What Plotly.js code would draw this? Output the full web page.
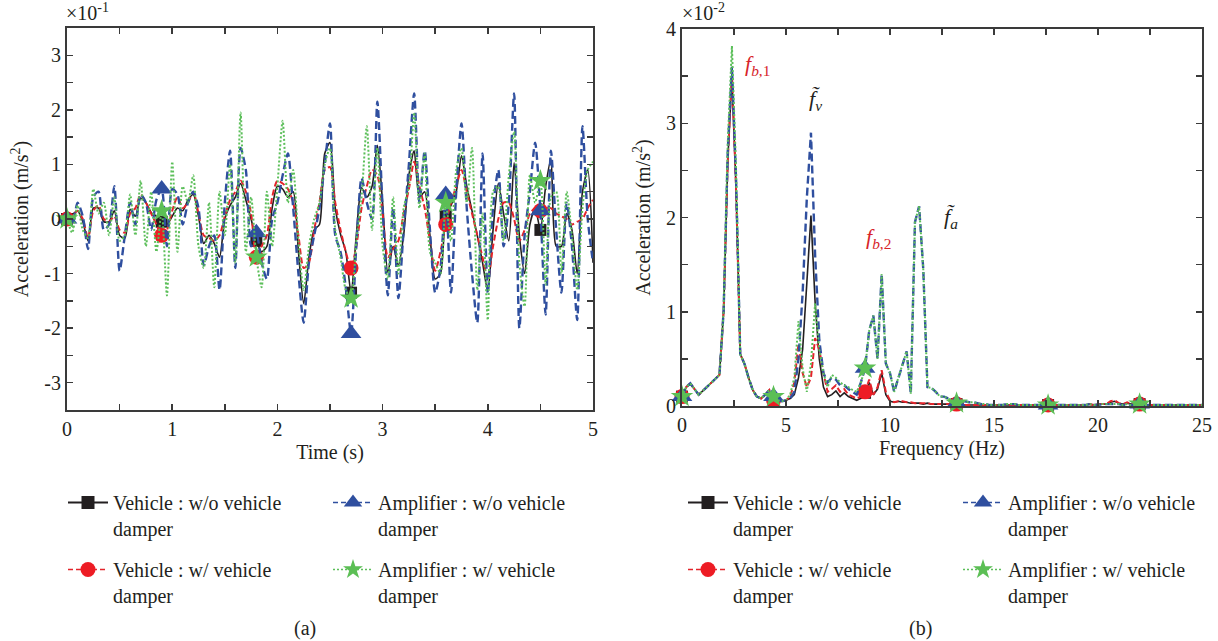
<!DOCTYPE html>
<html>
<head>
<meta charset="utf-8">
<script src="https://cdn.plot.ly/plotly-3.0.1.min.js"></script>
<style>
html,body{margin:0;padding:0;background:#fff;}
#chart{width:1218px;height:641px;}
</style>
</head>
<body>
<div id="chart"></div>
<script>
// ---------------- DATA ----------------
// (a) time histories, sampled every 0.05 s from 0 to 5 s (units: x10^-1 m/s^2)
const timeStep = 0.05;
const timeMarkers = [0, 0.9, 1.8, 2.7, 3.6, 4.5];
const timeVehicleNoDamper = [
  0.0,0.08,0.15,-0.05,-0.4,0.2,0.2,-0.05,-0.05,0.15,-0.3,-0.35,0.18,0.05,0.38,0.3,0.12,0.05,-0.05,-0.1,
  0.05,0.2,0.15,0.35,0.45,0.05,-0.45,-0.3,-0.45,-0.7,
  0.0,0.25,0.4,0.65,0.35,0.0,-0.4,-0.6,-0.5,0.2,
  0.6,0.55,0.4,0.5,-0.6,-1.55,-0.7,-0.2,-0.1,1.2,
  1.4,0.2,-0.28,-0.6,-1.35,-0.3,0.57,0.4,0.6,1.35,
  0.3,-0.98,-0.5,-0.85,-0.3,0.8,1.25,0.4,0.5,-0.3,
  -1.1,-1.0,0.05,0.25,0.5,1.16,0.6,0.15,-0.3,-0.8,
  -1.32,-0.2,0.65,0.1,-0.4,1.03,-0.3,-1.0,-0.1,0.2,
  -0.2,0.6,1.1,-0.5,-0.5,0.1,-0.2,-1.0,0.5,0.9,
  -0.8];
const timeVehicleDamper = [
  0.0,0.05,0.15,0.0,-0.35,0.15,0.25,0.0,-0.05,0.05,-0.2,-0.25,0.1,0.2,0.45,0.3,0.1,-0.1,-0.3,-0.2,
  0.15,0.4,0.2,0.3,0.5,0.1,-0.3,-0.35,-0.4,-0.3,
  0.05,0.35,0.5,0.7,0.5,0.1,-0.7,-0.5,-0.3,0.4,
  0.7,0.65,0.55,0.3,-0.3,-0.9,-0.8,-0.2,0.3,0.9,
  0.95,0.3,-0.2,-0.6,-0.9,-0.5,0.2,0.6,0.9,0.8,
  0.1,-0.7,-0.55,-0.4,0.1,0.55,1.05,0.6,0.2,-0.4,
  -0.95,-0.6,-0.1,0.3,0.6,0.9,0.5,0.1,-0.3,-0.7,
  -1.1,-0.5,0.0,0.3,0.3,0.0,-0.4,-0.2,0.1,0.2,
  0.15,0.2,0.2,0.1,0.05,0.0,-0.1,-0.05,0.0,0.2,
  0.35];
const timeAmplifierNoDamper = [
  0.0,-0.1,0.3,0.05,-0.55,0.4,0.5,-0.2,-0.1,0.6,-0.95,-0.3,0.3,-0.1,0.45,0.3,-0.2,0.35,0.55,-0.5,
  0.55,0.45,-0.1,0.3,0.5,0.2,-0.85,-0.5,-0.3,-1.3,
  0.3,1.25,-0.9,1.3,0.9,-0.5,-0.25,-0.8,-1.1,0.0,
  0.3,0.8,1.2,0.2,-1.0,-1.9,-0.8,-0.3,0.2,1.0,
  1.75,-0.3,-0.6,-1.25,-2.1,-0.5,0.75,0.3,0.0,2.15,
  0.2,-1.4,0.2,-1.45,-0.2,1.0,2.3,0.3,1.25,-0.2,
  -1.35,-0.9,0.45,-1.35,0.5,1.75,0.2,-1.0,-1.9,1.2,
  -1.35,0.2,0.9,-0.5,0.3,2.3,-2.0,-0.3,0.5,1.4,
  0.15,-1.75,1.25,-0.2,-1.35,0.3,-0.5,-1.85,1.7,0.0,
  -0.8];
const timeAmplifierDamper = [
  0.0,-0.25,0.25,-0.2,-0.35,0.55,0.1,0.3,-0.3,0.4,-0.4,-0.3,0.45,-0.3,0.7,-0.5,0.5,-0.6,0.15,-1.4,
  1.05,-0.6,0.6,0.3,0.8,-0.5,-0.9,0.3,-1.25,0.5,
  -0.3,1.0,-0.8,1.95,-0.6,0.4,-0.7,-1.25,0.5,-0.5,
  0.6,1.8,0.3,0.9,-0.4,-1.3,-0.5,0.0,0.3,1.0,
  1.3,-0.2,-0.7,-1.3,-1.45,-0.4,0.4,1.7,-0.2,1.3,
  -0.5,-1.1,0.4,-1.0,0.2,0.6,1.95,0.2,1.2,-0.6,
  -0.8,-1.0,0.3,-0.4,0.9,1.3,0.3,1.3,-1.3,0.1,
  -1.85,0.5,0.6,-0.4,0.8,1.6,-0.8,-1.6,0.8,0.3,
  0.7,-1.2,0.4,0.5,-1.0,0.5,-0.3,-1.3,0.2,0.9,
  1.05];

// (b) spectra, sampled every 0.2 Hz from 0 to 25 Hz (units: x10^-2 m/s^2)
const freqStep = 0.2;
const freqMarkers = [0, 4.4, 8.8, 13.2, 17.6, 22];
const freqVehicleNoDamper = [
  0.1,0.2,0.24,0.18,0.12,0.16,0.2,0.25,0.28,0.33,
  1.0,2.6,3.5,2.3,0.55,0.45,0.3,0.17,0.1,0.08,
  0.12,0.17,0.06,0.05,0.05,0.06,0.08,0.12,0.3,0.6,
  1.3,2.02,1.1,0.5,0.2,0.1,0.12,0.16,0.1,0.14,
  0.1,0.08,0.06,0.08,0.14,0.25,0.12,0.18,0.35,0.12,
  0.05,0.04,0.05,0.04,0.04,0.03,0.03,0.03,0.02,0.03,
  0.02,0.02,0.02,0.02,0.02,0.02,0.02,0.02,0.01,0.01,
  0.01,0.01,0.01,0.01,0.01,0.01,0.01,0.01,0.01,0.01,
  0.01,0.01,0.01,0.01,0.01,0.01,0.01,0.02,0.01,0.01,
  0.01,0.01,0.01,0.01,0.01,0.01,0.01,0.01,0.02,0.01,
  0.02,0.02,0.02,0.04,0.05,0.03,0.02,0.03,0.02,0.02,
  0.02,0.01,0.01,0.01,0.01,0.01,0.01,0.01,0.01,0.01,
  0.01,0.01,0.01,0.01,0.01,0.01];
const freqVehicleDamper = [
  0.1,0.2,0.24,0.18,0.12,0.16,0.2,0.25,0.28,0.33,
  1.0,2.6,3.55,2.3,0.55,0.45,0.3,0.17,0.1,0.08,
  0.12,0.17,0.06,0.05,0.05,0.06,0.1,0.25,0.66,0.35,
  0.2,0.3,0.72,0.6,0.35,0.15,0.18,0.22,0.15,0.18,
  0.12,0.1,0.08,0.1,0.15,0.28,0.12,0.2,0.38,0.15,
  0.06,0.04,0.05,0.05,0.04,0.04,0.03,0.03,0.03,0.03,
  0.02,0.02,0.02,0.02,0.02,0.02,0.02,0.02,0.01,0.01,
  0.01,0.01,0.01,0.01,0.01,0.01,0.01,0.01,0.01,0.01,
  0.01,0.01,0.01,0.01,0.01,0.01,0.01,0.02,0.01,0.01,
  0.01,0.01,0.01,0.01,0.01,0.01,0.01,0.01,0.02,0.01,
  0.02,0.02,0.02,0.05,0.06,0.03,0.02,0.04,0.02,0.02,
  0.02,0.01,0.01,0.01,0.01,0.01,0.01,0.01,0.01,0.01,
  0.01,0.01,0.01,0.01,0.01,0.01];
const freqAmplifierNoDamper = [
  0.1,0.2,0.24,0.18,0.12,0.16,0.2,0.25,0.28,0.33,
  1.0,2.7,3.6,2.4,0.55,0.45,0.3,0.17,0.1,0.08,
  0.12,0.17,0.1,0.06,0.05,0.06,0.08,0.15,0.5,1.2,
  2.2,2.9,1.6,0.7,0.35,0.25,0.3,0.28,0.22,0.22,
  0.18,0.15,0.12,0.25,0.4,0.8,0.96,0.5,1.4,0.45,
  0.35,0.15,0.3,0.45,0.58,0.13,1.95,2.12,1.45,0.2,
  0.19,0.15,0.1,0.1,0.08,0.05,0.03,0.05,0.05,0.04,
  0.04,0.03,0.02,0.02,0.01,0.01,0.01,0.01,0.02,0.02,
  0.02,0.01,0.01,0.01,0.01,0.01,0.01,0.02,0.01,0.01,
  0.01,0.01,0.01,0.01,0.01,0.01,0.01,0.01,0.02,0.01,
  0.01,0.02,0.02,0.02,0.02,0.02,0.01,0.02,0.01,0.01,
  0.02,0.01,0.01,0.01,0.01,0.01,0.01,0.01,0.01,0.01,
  0.01,0.01,0.01,0.01,0.01,0.01];
const freqAmplifierDamper = [
  0.1,0.2,0.24,0.18,0.12,0.16,0.2,0.25,0.28,0.33,
  1.0,2.8,3.82,2.5,0.55,0.45,0.3,0.17,0.1,0.08,
  0.12,0.17,0.1,0.06,0.05,0.06,0.12,0.3,0.9,0.4,
  0.15,0.45,1.09,0.6,0.35,0.2,0.33,0.3,0.25,0.22,
  0.2,0.17,0.15,0.25,0.4,0.8,0.96,0.5,1.4,0.45,
  0.35,0.15,0.3,0.45,0.58,0.13,1.95,2.12,1.45,0.2,
  0.19,0.15,0.1,0.1,0.08,0.05,0.03,0.05,0.05,0.04,
  0.04,0.03,0.02,0.02,0.01,0.01,0.01,0.01,0.02,0.02,
  0.02,0.01,0.01,0.01,0.01,0.01,0.01,0.02,0.01,0.01,
  0.01,0.01,0.01,0.01,0.01,0.01,0.01,0.01,0.02,0.01,
  0.01,0.02,0.02,0.02,0.02,0.02,0.01,0.02,0.01,0.01,
  0.02,0.01,0.01,0.01,0.01,0.01,0.01,0.01,0.01,0.01,
  0.01,0.01,0.01,0.01,0.01,0.01];

const seriesNames = [
  'Vehicle : w/o vehicle<br>damper',
  'Vehicle : w/ vehicle<br>damper',
  'Amplifier : w/o vehicle<br>damper',
  'Amplifier : w/ vehicle<br>damper'
];
const timeYTicks = [-3,-2,-1,0,1,2,3];
const timeYTickText = ['-3','-2','-1','0','1','2','3'];
const timeXTicks = [0,1,2,3,4,5];
const freqYTicks = [0,1,2,3,4];
const freqXTicks = [0,5,10,15,20,25];

// ---------------- STYLE ----------------
const FONT = 'Liberation Serif';
const INK = '#231f20';
const styles = [
  {color:'#231f20', dash:'solid', width:1.6, symbol:'square', size:12, mcolor:'#231f20', lw:1.8, ldash:'solid', lsize:13},
  {color:'#e3242b', dash:'6px,3px', width:2, symbol:'circle', size:15, mcolor:'#ed1c24', lw:1.5, ldash:'5px,3px', lsize:15},
  {color:'#2f4f9f', dash:'8px,4px', width:2.4, symbol:'triangle-up', size:18, mcolor:'#2f4f9f', lw:1.5, ldash:'5px,3px', lsize:16},
  {color:'#5cbf5a', dash:'2px,2px', width:2, symbol:'star', size:17, mcolor:'#5cbf55', lw:1.5, ldash:'2px,2px', lsize:15}
];
const legendIds = [['legend','legend3','legend2','legend4'], ['legend5','legend7','legend6','legend8']];

function markerSizes(n, step, marks, size){
  const s = new Array(n).fill(0);
  marks.forEach(m => { s[Math.round(m/step)] = size; });
  return s;
}

const timeSeries = [timeVehicleNoDamper, timeVehicleDamper, timeAmplifierNoDamper, timeAmplifierDamper];
const freqSeries = [freqVehicleNoDamper, freqVehicleDamper, freqAmplifierNoDamper, freqAmplifierDamper];

const traces = [];
timeSeries.forEach((ys,i) => {
  const st = styles[i];
  traces.push({
    type:'scatter', mode:'lines+markers', name:seriesNames[i], showlegend:false,
    x0:0, dx:timeStep, y:ys, xaxis:'x', yaxis:'y',
    line:{color:st.color, width:st.width, dash:st.dash, shape:'spline', smoothing:0.7},
    marker:{symbol:st.symbol, color:st.mcolor, opacity:1, size:markerSizes(ys.length,timeStep,timeMarkers,st.size), line:{width:0}},
    cliponaxis:false, hoverinfo:'skip'
  });
});
freqSeries.forEach((ys,i) => {
  const st = styles[i];
  traces.push({
    type:'scatter', mode:'lines+markers', name:seriesNames[i], showlegend:false,
    x0:0, dx:freqStep, y:ys, xaxis:'x2', yaxis:'y2',
    line:{color:st.color, width:st.width, dash:st.dash},
    marker:{symbol:st.symbol, color:st.mcolor, opacity:1, size:markerSizes(ys.length,freqStep,freqMarkers,st.size), line:{width:0}},
    cliponaxis:false, hoverinfo:'skip'
  });
});
// legend-only entries (thin line + marker, as in the reference key)
[['x','y'],['x2','y2']].forEach((ax,p) => {
  styles.forEach((st,i) => {
    traces.push({
      type:'scatter', mode:'lines+markers', name:seriesNames[i], showlegend:true,
      x:[null], y:[null], xaxis:ax[0], yaxis:ax[1],
      line:{color:st.color, width:st.lw, dash:st.ldash},
      marker:{symbol:st.symbol, color:st.mcolor, size:st.lsize, line:{width:0}},
      legend:legendIds[p][i], hoverinfo:'skip'
    });
  });
});

const W = 1218, H = 641;
const px = v => v / W;
const py = v => (H - v) / H;

const axisCommon = {
  showline:true, linecolor:'#3a3a3a', linewidth:2, mirror:'ticks',
  ticks:'inside', ticklen:6, tickwidth:1.5, tickcolor:'#3a3a3a',
  showgrid:false, zeroline:false, tickmode:'array',
  tickfont:{family:FONT, size:20, color:INK}
};
const minorTicks = d => ({dtick:d, tick0:0, ticks:'inside', ticklen:6, tickwidth:1.5, tickcolor:'#3a3a3a', showgrid:false});

function legendAt(x, y){
  return {x:px(x), y:py(y), xanchor:'left', yanchor:'top', orientation:'h',
    bgcolor:'rgba(0,0,0,0)', borderwidth:0, itemsizing:'trace', valign:'top', itemwidth:40,
    font:{family:FONT, size:20, color:INK}, itemclick:false, itemdoubleclick:false};
}

const layout = {
  width:W, height:H, margin:{l:0,r:0,t:0,b:0},
  paper_bgcolor:'#fff', plot_bgcolor:'#fff',
  font:{family:FONT, size:20, color:INK},
  showlegend:true,
  xaxis:Object.assign({}, axisCommon, {domain:[px(67),px(593)], range:[0,5], anchor:'y',
    tickvals:timeXTicks, ticktext:timeXTicks.map(String), minor:minorTicks(0.5),
    title:{text:'Time (s)', font:{family:FONT,size:20,color:INK}, standoff:6}}),
  yaxis:Object.assign({}, axisCommon, {domain:[py(410),py(28)], range:[-3.5,3.5], anchor:'x',
    tickvals:timeYTicks, ticktext:timeYTickText, minor:minorTicks(0.5),
    title:{text:'Acceleration (m/s<sup>2</sup>)', font:{family:FONT,size:20,color:INK}, standoff:10}}),
  xaxis2:Object.assign({}, axisCommon, {domain:[px(682),px(1202)], range:[0,25], anchor:'y2',
    tickvals:freqXTicks, ticktext:freqXTicks.map(String), minor:minorTicks(2.5),
    title:{text:'Frequency (Hz)', font:{family:FONT,size:20,color:INK}, standoff:6}}),
  yaxis2:Object.assign({}, axisCommon, {domain:[py(406),py(29)], range:[0,4], anchor:'x2',
    tickvals:freqYTicks, ticktext:freqYTicks.map(String), minor:minorTicks(0.5),
    title:{text:'Acceleration (m/s<sup>2</sup>)', font:{family:FONT,size:20,color:INK}, standoff:10}}),
  legend:legendAt(63,483), legend2:legendAt(328,483),
  legend3:legendAt(63,550), legend4:legendAt(328,550),
  legend5:legendAt(683,483), legend6:legendAt(958,483),
  legend7:legendAt(683,550), legend8:legendAt(958,550),
  annotations:[
    {xref:'paper', yref:'paper', x:px(64), y:py(26), xanchor:'left', yanchor:'bottom', showarrow:false,
     text:'×10<sup>-1</sup>', font:{family:FONT,size:20,color:INK}},
    {xref:'paper', yref:'paper', x:px(680), y:py(26), xanchor:'left', yanchor:'bottom', showarrow:false,
     text:'×10<sup>-2</sup>', font:{family:FONT,size:20,color:INK}},
    {xref:'x2', yref:'y2', x:2.95, y:3.62, xanchor:'left', yanchor:'middle', showarrow:false,
     text:'<i>f</i><sub><i>b</i>,1</sub>', font:{family:FONT,size:22,color:'#d7242a'}},
    {xref:'x2', yref:'y2', x:8.75, y:1.78, xanchor:'left', yanchor:'middle', showarrow:false,
     text:'<i>f</i><sub><i>b</i>,2</sub>', font:{family:FONT,size:22,color:'#d7242a'}},
    {xref:'x2', yref:'y2', x:6.0, y:3.25, xanchor:'left', yanchor:'middle', showarrow:false,
     text:'<i>f\u0303</i><sub><i>v</i></sub>', font:{family:FONT,size:22,color:INK}},
    {xref:'x2', yref:'y2', x:12.5, y:2.0, xanchor:'left', yanchor:'middle', showarrow:false,
     text:'<i>f\u0303</i><sub><i>a</i></sub>', font:{family:FONT,size:22,color:INK}},
    {xref:'paper', yref:'paper', x:px(305), y:py(628), xanchor:'center', yanchor:'middle', showarrow:false,
     text:'(a)', font:{family:FONT,size:20,color:INK}},
    {xref:'paper', yref:'paper', x:px(920), y:py(628), xanchor:'center', yanchor:'middle', showarrow:false,
     text:'(b)', font:{family:FONT,size:20,color:INK}}
  ]
};

Plotly.newPlot('chart', traces, layout, {staticPlot:true, displayModeBar:false});
</script>
</body>
</html>
